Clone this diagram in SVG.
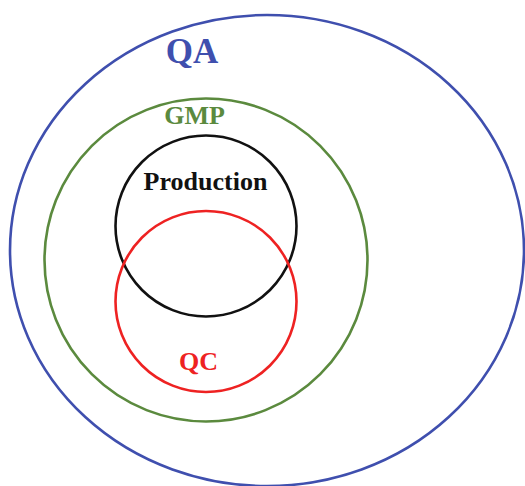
<svg xmlns="http://www.w3.org/2000/svg" width="525" height="486" viewBox="0 0 525 486">
<style>
.c{fill:none;stroke-width:2.6}
.t{font-family:"Liberation Serif","Times New Roman",serif;font-weight:bold;text-anchor:middle}
</style>
<rect width="525" height="486" fill="#ffffff"/>
<g id="qa">
<ellipse class="c" cx="267" cy="250.5" rx="257" ry="235.5" stroke="#3f4fae"/>
<text class="t" x="192" y="63" font-size="35" fill="#3f4fae">QA</text>
</g>
<g id="gmp">
<circle class="c" cx="206" cy="260" r="161.5" stroke="#5b8a3e"/>
<text class="t" x="194.5" y="124" font-size="26" fill="#5b8a3e">GMP</text>
</g>
<g id="production">
<circle class="c" cx="206" cy="226" r="90.5" stroke="#111111"/>
<text class="t" x="205.5" y="190" font-size="26" fill="#111111">Production</text>
</g>
<g id="qc">
<circle class="c" cx="206" cy="301.5" r="90.5" stroke="#ee2222"/>
<text class="t" x="198.5" y="370" font-size="26" fill="#ee2222">QC</text>
</g>
<g id="connectors"/>
</svg>
